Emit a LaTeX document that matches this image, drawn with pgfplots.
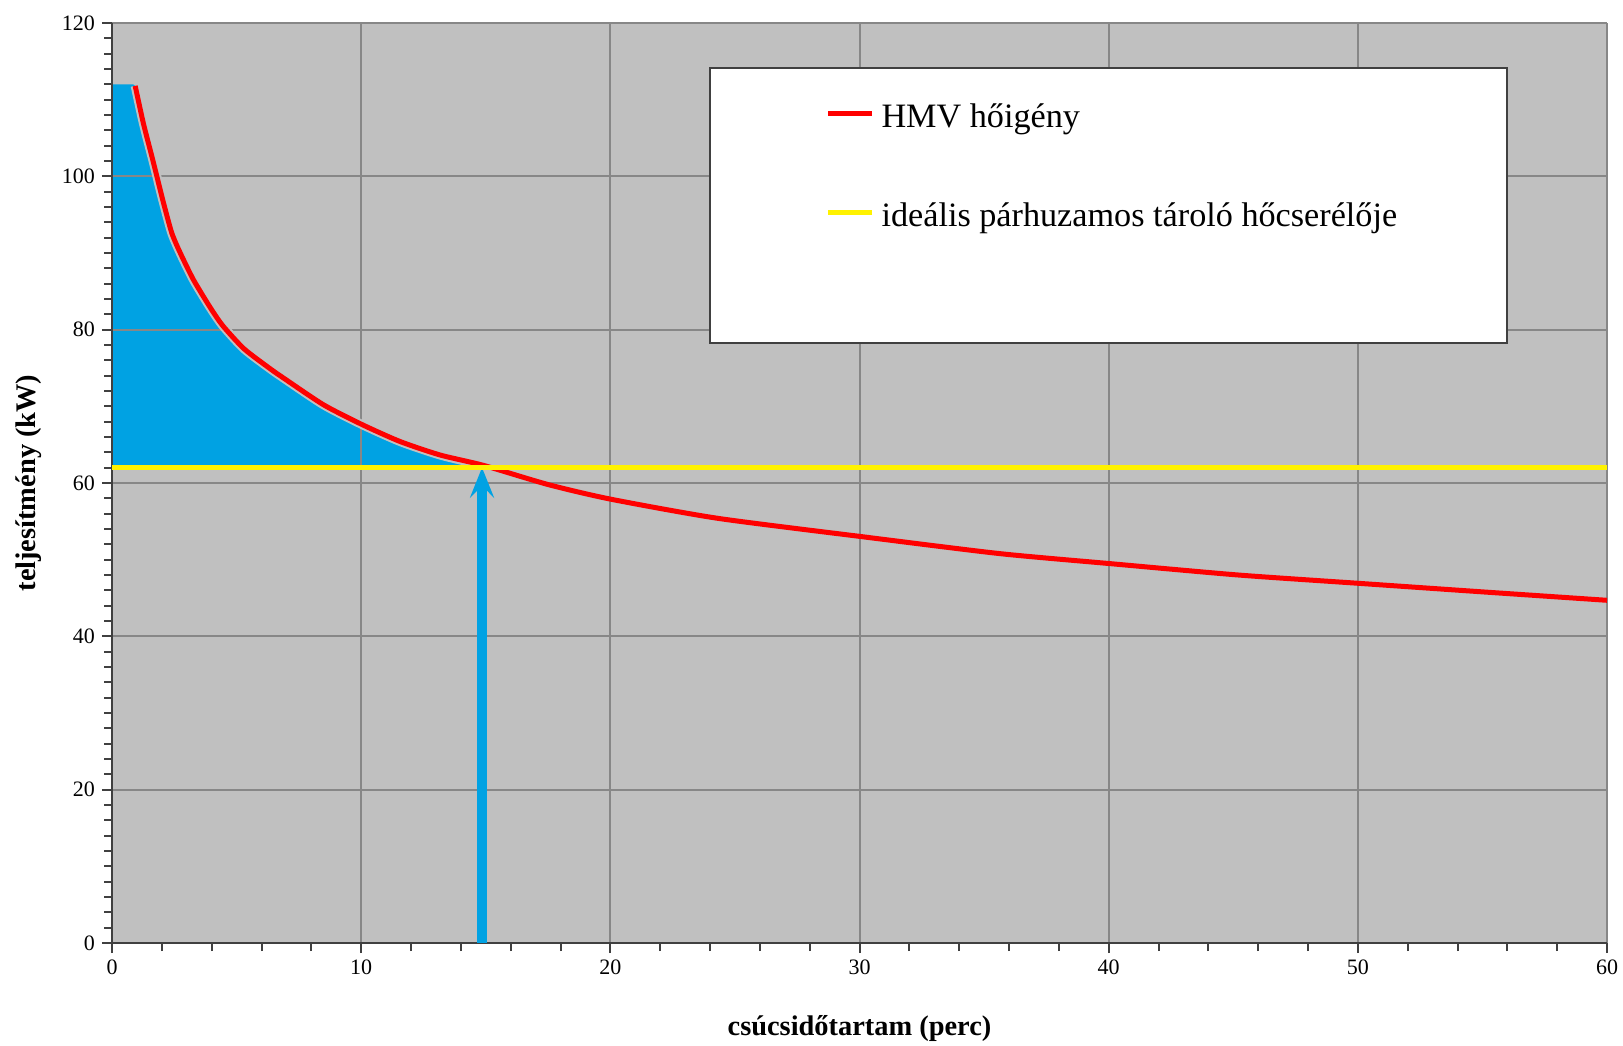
\documentclass[border=0pt]{standalone}
\usepackage{fontspec}
\setmainfont{Liberation Serif}
\usepackage{pgfplots}
\usepackage{pgfplotstable}
\pgfplotsset{compat=1.18}
\usetikzlibrary{arrows.meta}
\definecolor{bg}{HTML}{C0C0C0}
\definecolor{gridc}{HTML}{878787}
\definecolor{fillblue}{HTML}{00A2E3}
\definecolor{axc}{HTML}{404040}

\pgfplotstableread{
x y
0.93 111.8
1.26 106.9
1.60 102.6
1.80 100.0
2.07 96.5
2.40 92.6
2.74 90.0
3.27 86.5
3.94 82.9
4.45 80.5
5.30 77.5
6.35 74.9
6.88 73.7
8.49 70.2
10.05 67.6
11.57 65.4
13.17 63.65
14.91 62.3
17.50 59.8
20.00 57.9
24.30 55.4
30.10 53.0
35.60 50.8
40.00 49.5
45.20 48.0
50.10 46.9
55.00 45.8
60.00 44.7
}\hmv

\pgfplotstableread{
x y
0 62
0 112
0.85 112
0.93 111.8
1.26 106.9
1.60 102.6
1.80 100.0
2.07 96.5
2.40 92.6
2.74 90.0
3.27 86.5
3.94 82.9
4.45 80.5
5.30 77.5
6.35 74.9
6.88 73.7
8.49 70.2
10.05 67.6
11.57 65.4
13.17 63.65
14.91 62.3
15.20 62
}\area

\begin{document}
\begin{tikzpicture}
\begin{axis}[
  set layers,
  scale only axis, width=747.5pt, height=460pt,
  xmin=0, xmax=60, ymin=0, ymax=120,
  xtick={0,10,...,60}, ytick={0,20,...,120},
  minor x tick num=4, minor y tick num=9,
  axis background/.style={fill=bg},
  grid=major, major grid style={gridc, line width=1pt},
  axis lines*=left, axis line style={axc, line width=1pt, -},
  tick align=outside, tick pos=left,
  major tick length=5pt, minor tick length=4pt,
  every tick/.style={axc, line width=1pt},
  /pgf/number format/assume math mode=true,
  ticklabel style={font=\fontsize{11}{13}\selectfont, text=black},
  xlabel={csúcsidőtartam (perc)},
  ylabel={teljesítmény (kW)},
  label style={font=\fontsize{14.2}{17}\selectfont\bfseries},
  xlabel style={at={(axis description cs:0.5,-0.0924)}, anchor=center},
  ylabel style={at={(axis description cs:-0.0555,0.5)}, anchor=center},
  legend style={at={(axis cs:28.62,109.5)}, anchor=north west, draw=none, fill=none,
    inner sep=0pt, row sep=33.5pt, column sep=3.5pt,
    font=\fontsize{17.1}{20}\selectfont,
    nodes={inner sep=0pt, text height=12pt, text depth=4pt}},
  legend cell align=left,
  legend image code/.code={\draw[#1] (0pt,0.3em) -- (22pt,0.3em);},
]
\addplot[fill=fillblue, draw=none, on layer=axis background, forget plot] table {\area} -- cycle;
\draw[axc, line width=1pt, fill=white] (axis cs:24,78.3) rectangle (axis cs:56,114.1);
\addplot[bg, line width=4.5pt, smooth, tension=0.4, forget plot] table[restrict x to domain=0:16] {\hmv};
\addplot[red, line width=2.5pt, smooth, tension=0.4] table {\hmv};
\addlegendentry{HMV hőigény}
\addplot[fillblue, line width=5pt, -{Stealth[length=15pt, width=12pt, inset=6pt]}, forget plot] coordinates {(14.85,0) (14.85,62)};
\addplot[yellow, line width=2.5pt] coordinates {(0,62) (60,62)};
\addlegendentry{ideális párhuzamos tároló hőcserélője}
\end{axis}
\pgfresetboundingbox
\path ([shift={(-56pt,-51pt)}]current axis.south west) rectangle ([shift={(8pt,11.5pt)}]current axis.north east);
\end{tikzpicture}
\end{document}
